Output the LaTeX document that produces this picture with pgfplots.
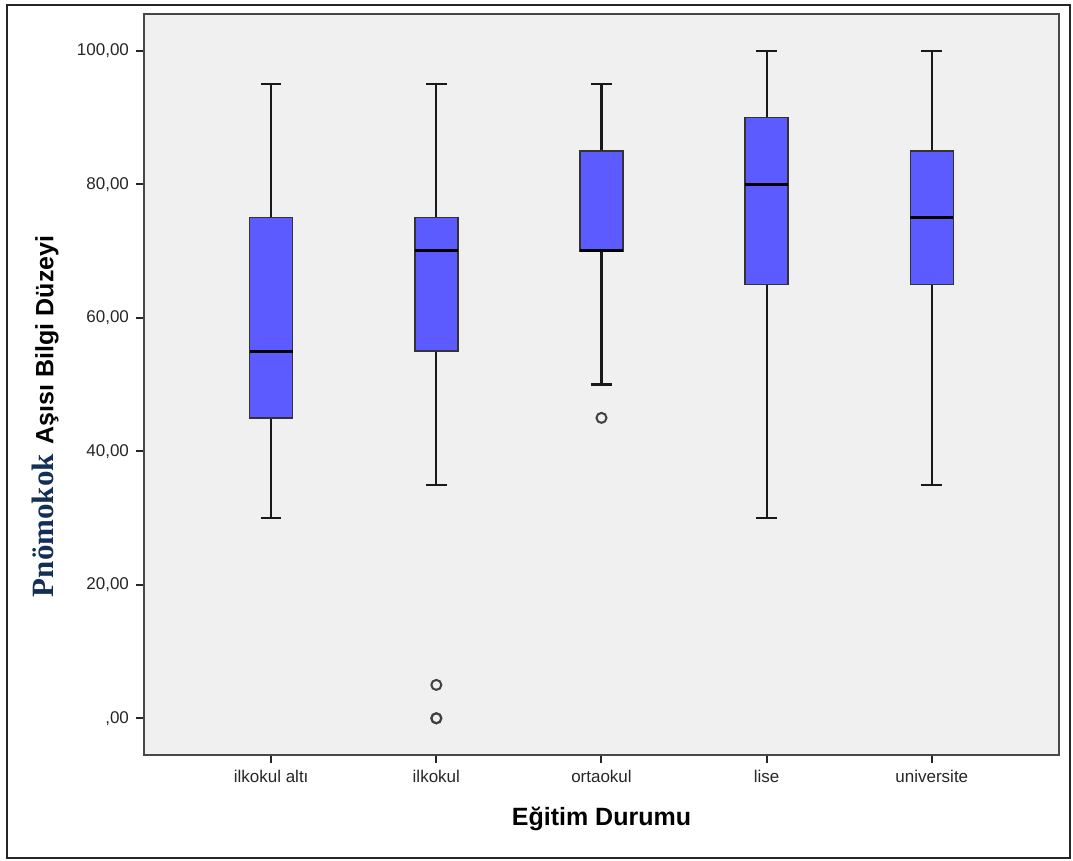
\documentclass[border=0pt]{standalone}
\usepackage{fontspec}
\setmainfont{Liberation Sans}
\newfontfamily\seriffont{Liberation Serif}
\usepackage{xcolor}
\usepackage{pgfplots}
\pgfplotsset{compat=1.18}
\usepgfplotslibrary{statistics}
\definecolor{boxblue}{HTML}{5B5BFF}
\definecolor{plotbg}{HTML}{F0F0F0}
\definecolor{navytext}{HTML}{132F55}

\begin{document}
\begin{tikzpicture}
\begin{axis}[
  scale only axis, width=457.5pt, height=370.5pt,
  xmin=-0.77, xmax=4.77, ymin=-5.5, ymax=105.5,
  axis background/.style={fill=plotbg},
  axis line style={draw=black!72, line width=1.2pt},
  xtick={0,1,2,3,4},
  xticklabels={ilkokul altı,ilkokul,ortaokul,lise,universite},
  ytick={0,20,40,60,80,100},
  yticklabels={{,00},{20,00},{40,00},{60,00},{80,00},{100,00}},
  xtick pos=bottom, ytick pos=left,
  tick align=outside, major tick length=4pt,
  tick style={line width=1pt, black!85},
  tick label style={font=\fontsize{8.5}{10}\selectfont, text=black!85},
  xlabel={Eğitim Durumu},
  xlabel style={font=\fontsize{12.5}{14}\selectfont\bfseries, at={(axis description cs:0.5,-0.0864)}, anchor=center},
  ylabel={{\seriffont\fontsize{15.5}{17}\selectfont\bfseries\color{navytext}Pnömokok}\hspace{5pt}Aşısı Bilgi Düzeyi},
  ylabel style={font=\fontsize{12.5}{14}\selectfont\bfseries, at={(axis description cs:-0.108,0.457)}, anchor=center},
  boxplot/draw direction=y,
  boxplot/box extend=0.26,
  boxplot/whisker extend=0.125,
  boxplot/every box/.style={draw=black!80, line width=0.7pt, fill=boxblue},
  boxplot/every median/.style={draw=black, line width=1.5pt},
  boxplot/every whisker/.style={draw=black!90, line width=1.1pt},
  clip=false,
]
\addplot[draw=black, mark=o, mark size=2.5pt, mark options={line width=1pt, draw=black!75},
  boxplot prepared={draw position=0, lower whisker=30, lower quartile=45,
    median=55, upper quartile=75, upper whisker=95}] coordinates {};
\addplot[draw=black, mark=o, mark size=2.5pt, mark options={line width=1pt, draw=black!75},
  boxplot prepared={draw position=1, lower whisker=35, lower quartile=55,
    median=70, upper quartile=75, upper whisker=95}] coordinates {(1,5) (1,0) (1,0)};
\addplot[draw=black, mark=o, mark size=2.5pt, mark options={line width=1pt, draw=black!75},
  boxplot prepared={draw position=2, lower whisker=50, lower quartile=70,
    median=70, upper quartile=85, upper whisker=95}] coordinates {(2,45)};
\addplot[draw=black, mark=o, mark size=2.5pt, mark options={line width=1pt, draw=black!75},
  boxplot prepared={draw position=3, lower whisker=30, lower quartile=65,
    median=80, upper quartile=90, upper whisker=100}] coordinates {};
\addplot[draw=black, mark=o, mark size=2.5pt, mark options={line width=1pt, draw=black!75},
  boxplot prepared={draw position=4, lower whisker=35, lower quartile=65,
    median=75, upper quartile=85, upper whisker=100}] coordinates {};
\coordinate (sw) at (rel axis cs:0,0);
\coordinate (ne) at (rel axis cs:1,1);
\end{axis}
\path (sw) ++(-72pt,-53pt) rectangle ++(536.5pt,430.5pt);
\draw[line width=1pt, black!85] ([xshift=-68.5pt,yshift=-51.5pt]sw) rectangle ([xshift=5.5pt,yshift=4.5pt]ne);
\end{tikzpicture}
\end{document}
